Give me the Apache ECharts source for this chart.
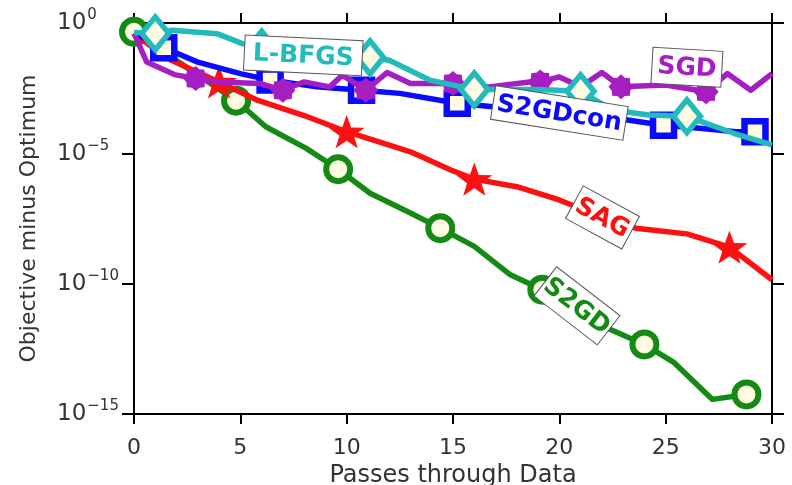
<!DOCTYPE html>
<html>
<head>
<meta charset="utf-8">
<script src="https://cdn.jsdelivr.net/npm/echarts@6/dist/echarts.min.js"></script>
<style>
  html, body { margin: 0; padding: 0; background: #fff; }
  #chart { width: 792px; height: 485px; }
</style>
</head>
<body>
<div id="chart"></div>
<script>
// Objective gap (as log10) against passes through the data, for five solvers.
// Each series: pass positions, log10 of the gap, and the passes that carry a marker.

const s2gdPasses = [0, 4.8, 6.2, 8.1, 9.6, 11.1, 13.0, 14.4, 16.0, 17.7, 19.2, 22.4, 24.0, 25.4, 27.2, 28.8];
const s2gdLog10 = [-0.34, -2.98, -3.98, -4.81, -5.61, -6.53, -7.29, -7.87, -8.57, -9.66, -10.23, -11.76, -12.33, -13.03, -14.44, -14.25];
const s2gdMarked = [0, 4.8, 9.6, 14.4, 19.2, 24.0, 28.8];

const sagPasses = [0, 1.5, 4.0, 5.8, 8.0, 10.0, 13.0, 14.9, 16.0, 18.0, 20.0, 22.0, 23.6, 26.0, 28.0, 30.0];
const sagLog10 = [-0.4, -1.33, -2.26, -2.96, -3.55, -4.17, -4.94, -5.64, -5.99, -6.28, -6.79, -7.45, -7.87, -8.09, -8.6, -9.85];
const sagMarked = [4.0, 10.0, 16.0, 22.0, 28.0];

const s2gdconPasses = [0, 1.4, 3.0, 5.0, 6.4, 8.6, 10.7, 12.5, 15.2, 20.0, 23.2, 24.9, 26.6, 28.3, 29.2];
const s2gdconLog10 = [-0.38, -0.95, -1.5, -1.94, -2.19, -2.45, -2.58, -2.7, -3.08, -3.46, -3.72, -3.92, -4.04, -4.17, -4.17];
const s2gdconMarked = [1.4, 6.4, 10.7, 15.2, 20.0, 24.9, 29.2];

const sgdPasses = [0, 0.6, 1.9, 2.9, 4.0, 5.9, 7.0, 8.0, 9.2, 9.8, 10.9, 11.9, 13.0, 15.0, 16.7, 18.6, 19.1, 20.0, 21.0, 22.0, 22.9, 25.0, 26.9, 27.9, 29.0, 30.0];
const sgdLog10 = [-0.4, -1.5, -1.98, -2.13, -2.26, -2.32, -2.58, -2.26, -2.45, -2.0, -2.58, -1.9, -2.32, -2.32, -2.45, -2.26, -2.26, -2.07, -2.45, -1.9, -2.45, -2.38, -2.64, -1.94, -2.58, -1.94];
const sgdMarked = [2.9, 7.0, 10.9, 15.0, 19.1, 22.9, 26.9];

const lbfgsPasses = [0, 1.0, 1.8, 3.9, 5.1, 6.0, 11.1, 12.0, 13.9, 16.0, 19.0, 21.0, 22.5, 24.2, 26.0, 28.2, 30.0];
const lbfgsLog10 = [-0.36, -0.4, -0.28, -0.41, -0.79, -0.95, -1.32, -1.43, -2.19, -2.55, -2.55, -2.62, -3.34, -3.53, -3.58, -4.23, -4.68];
const lbfgsMarked = [1.0, 6.0, 11.1, 16.0, 21.0, 26.0];

const xTicks = [0, 5, 10, 15, 20, 25, 30];
const yExponents = [0, -5, -10, -15];

// Symbol outlines
function starPath(points, inner) {
  const parts = [];
  for (let i = 0; i < points * 2; i++) {
    const r = i % 2 === 0 ? 100 : 100 * inner;
    const a = -Math.PI / 2 + i * Math.PI / points;
    parts.push((i === 0 ? 'M' : 'L') + (r * Math.cos(a)).toFixed(1) + ',' + (r * Math.sin(a)).toFixed(1));
  }
  return 'path://' + parts.join(' ') + ' Z';
}
const STAR = starPath(5, 0.4);
const ASTERISK = starPath(8, 0.8);

const CREAM = '#fffce2';
const FONT = '"DejaVu Sans", sans-serif';

function buildData(xs, ys, marked) {
  return xs.map((x, i) => marked.includes(x) ? [x, ys[i]] : { value: [x, ys[i]], symbol: 'none' });
}

function lineSeries(name, xs, ys, marked, color, symbol, size, fill, border, z) {
  return {
    name: name,
    type: 'line',
    z: z,
    data: buildData(xs, ys, marked),
    symbol: symbol,
    symbolSize: size,
    symbolKeepAspect: true,
    showSymbol: true,
    lineStyle: { color: color, width: 5.5, join: 'round' },
    itemStyle: { color: fill, borderColor: color, borderWidth: border },
    emphasis: { disabled: true }
  };
}

const GREEN = '#148a14', RED = '#ff1010', BLUE = '#0a0aff', PURPLE = '#a61ec2', CYAN = '#22baba';

const chart = echarts.init(document.getElementById('chart'), null, { renderer: 'canvas' });

const axisLine = { show: true, onZero: false, lineStyle: { color: '#000', width: 2 } };
const axisTick = { show: true, inside: false, length: 10, lineStyle: { color: '#000', width: 2 } };

chart.setOption({
  animation: false,
  backgroundColor: '#fff',
  grid: { left: 134, right: 20, top: 23, bottom: 71, containLabel: false, outerBoundsMode: 'none' },
  xAxis: [
    {
      type: 'value', position: 'bottom', min: 0, max: 30, interval: 5,
      axisLine: axisLine, axisTick: axisTick, splitLine: { show: false },
      axisLabel: { margin: 23, fontSize: 22, fontFamily: FONT, color: '#333',
        formatter: v => xTicks.includes(v) ? String(v) : '' },
      name: 'Passes through Data', nameLocation: 'middle', nameGap: 37,
      nameTextStyle: { fontSize: 24, fontFamily: FONT, color: '#333' }
    },
    {
      type: 'value', position: 'top', min: 0, max: 30, interval: 5,
      axisLine: axisLine, axisTick: axisTick, splitLine: { show: false },
      axisLabel: { show: false }
    }
  ],
  yAxis: [
    {
      type: 'value', position: 'left', min: -15, max: 0, interval: 5,
      axisLine: axisLine, axisTick: { ...axisTick, length: 12 }, splitLine: { show: false },
      axisLabel: {
        margin: 77, align: 'left',
        formatter: v => yExponents.includes(v)
          ? '{b|10}{s|' + (v < 0 ? '\u2212' + (-v) : String(v)) + '}' : '',
        rich: {
          b: { fontSize: 23, fontFamily: FONT, color: '#333', lineHeight: 24, verticalAlign: 'bottom' },
          s: { fontSize: 15, fontFamily: FONT, color: '#333', lineHeight: 24, verticalAlign: 'bottom', padding: [0, 0, 12, 1] }
        }
      },
      name: 'Objective minus Optimum', nameLocation: 'middle', nameGap: 94, nameRotate: 90,
      nameTextStyle: { fontSize: 22, fontFamily: FONT, color: '#333' }
    },
    {
      type: 'value', position: 'right', min: -15, max: 0, interval: 5,
      axisLine: axisLine, axisTick: { ...axisTick, length: 12 }, splitLine: { show: false },
      axisLabel: { show: false }
    }
  ],
  series: [
    lineSeries('S2GD', s2gdPasses, s2gdLog10, s2gdMarked, GREEN, 'circle', 24, CREAM, 6, 2),
    lineSeries('SAG', sagPasses, sagLog10, sagMarked, RED, STAR, [36, 35], RED, 0, 3),
    lineSeries('S2GDcon', s2gdconPasses, s2gdconLog10, s2gdconMarked, BLUE, 'rect', 21, CREAM, 6.5, 4),
    lineSeries('SGD', sgdPasses, sgdLog10, sgdMarked, PURPLE, ASTERISK, 25, PURPLE, 0, 5),
    lineSeries('L-BFGS', lbfgsPasses, lbfgsLog10, lbfgsMarked, CYAN, 'diamond', [27, 33], CREAM, 5.5, 6)
  ]
});

// Boxed series names placed along their curves
const annotations = [
  { text: 'L-BFGS', at: [7.96, -1.24], angle: -2.8, w: 118, h: 35, color: CYAN },
  { text: 'SGD', at: [26.0, -1.70], angle: -3.3, w: 70, h: 36, color: PURPLE },
  { text: 'S2GDcon', at: [20.0, -3.45], angle: -9, w: 134, h: 34, color: BLUE },
  { text: 'SAG', at: [22.03, -7.46], angle: -28.6, w: 64, h: 37, color: RED },
  { text: 'S2GD', at: [20.83, -10.85], angle: -37.7, w: 80, h: 37, color: GREEN }
];

chart.setOption({
  graphic: annotations.map(a => {
    const p = chart.convertToPixel({ gridIndex: 0 }, a.at);
    return {
      type: 'group', x: p[0], y: p[1], rotation: a.angle * Math.PI / 180, z: 100,
      children: [
        { type: 'rect', z: 100, shape: { x: -a.w / 2, y: -a.h / 2, width: a.w, height: a.h },
          style: { fill: '#fff', stroke: '#555', lineWidth: 1 } },
        { type: 'text', z: 101, style: { text: a.text, x: 0, y: 1, fill: a.color,
          font: 'bold 25px "DejaVu Sans", sans-serif',
          textAlign: 'center', textVerticalAlign: 'middle', align: 'center', verticalAlign: 'middle' } }
      ]
    };
  })
});
</script>
</body>
</html>
